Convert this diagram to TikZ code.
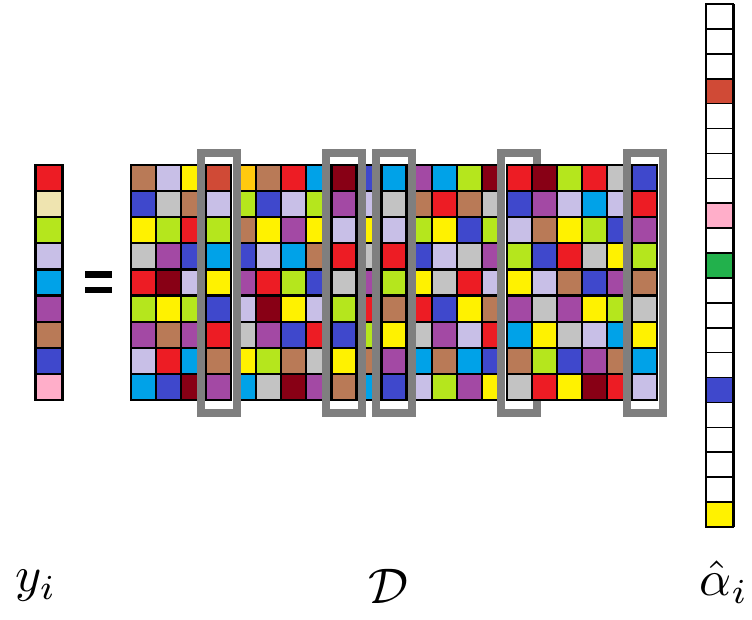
\documentclass[tikz,border=0pt]{standalone}
\usepackage{amsmath}
\definecolor{Br}{HTML}{B97A57}
\definecolor{Lv}{HTML}{C8BFE7}
\definecolor{Ye}{HTML}{FFF200}
\definecolor{Rd}{HTML}{ED1C24}
\definecolor{Bl}{HTML}{3F48CC}
\definecolor{Gy}{HTML}{C3C3C3}
\definecolor{Li}{HTML}{B5E61D}
\definecolor{Pu}{HTML}{A349A4}
\definecolor{Dr}{HTML}{880015}
\definecolor{Cy}{HTML}{00A2E8}
\definecolor{Am}{HTML}{FFC90E}
\definecolor{Cr}{HTML}{EFE4B0}
\definecolor{Pk}{HTML}{FFAEC9}
\definecolor{Gr}{HTML}{22B14C}
\definecolor{Ru}{HTML}{D04A36}
\definecolor{Wh}{HTML}{FFFFFF}
\definecolor{boxgray}{HTML}{7F7F7F}
\begin{document}
\begin{tikzpicture}[x=1pt,y=-1pt,
  cell/.style={draw=black,line width=2.2pt},
  acell/.style={draw=black,line width=1.6pt},
  hibox/.style={draw=boxgray,line width=8pt,fill=white},
  lab/.style={inner sep=0pt,scale=5}]
\useasboundingbox[fill=white] (0,0) rectangle (752,619);
\pgfmathsetmacro{\cw}{25.05}
\pgfmathsetmacro{\rh}{26.11}
% base matrix
\def\matcols{{Br,Bl,Ye,Gy,Rd,Li,Pu,Lv,Cy},
{Lv,Gy,Li,Pu,Dr,Ye,Br,Rd,Bl},
{Ye,Br,Rd,Bl,Lv,Li,Pu,Cy,Dr},
{Ru,Lv,Li,Cy,Ye,Bl,Rd,Br,Pu},
{Am,Li,Br,Bl,Pu,Lv,Gy,Ye,Cy},
{Br,Bl,Ye,Lv,Rd,Dr,Pu,Li,Gy},
{Rd,Lv,Pu,Cy,Li,Ye,Bl,Br,Dr},
{Cy,Li,Ye,Br,Bl,Lv,Rd,Gy,Pu},
{Dr,Pu,Lv,Rd,Gy,Li,Bl,Ye,Br},
{Bl,Lv,Ye,Gy,Pu,Rd,Li,Br,Cy},
{Cy,Gy,Lv,Rd,Li,Br,Ye,Pu,Bl},
{Pu,Br,Li,Bl,Ye,Rd,Gy,Cy,Lv},
{Cy,Rd,Ye,Lv,Gy,Bl,Pu,Br,Li},
{Li,Br,Bl,Gy,Rd,Ye,Lv,Cy,Pu},
{Dr,Gy,Li,Pu,Lv,Br,Rd,Bl,Ye},
{Rd,Bl,Lv,Li,Ye,Pu,Cy,Br,Gy},
{Dr,Pu,Br,Bl,Lv,Gy,Ye,Li,Rd},
{Li,Lv,Ye,Rd,Br,Pu,Gy,Bl,Ye},
{Rd,Cy,Li,Gy,Bl,Ye,Lv,Pu,Dr},
{Gy,Lv,Bl,Ye,Pu,Li,Cy,Br,Rd},
{Bl,Rd,Pu,Li,Br,Gy,Ye,Cy,Lv}}
\foreach \col [count=\i] in \matcols {
  \foreach \clr [count=\j] in \col {
    \pgfmathsetmacro{\xl}{131+\cw*(\i-1)}
    \pgfmathsetmacro{\yt}{165+\rh*(\j-1)}
    \filldraw[cell,fill=\clr] (\xl,\yt) rectangle ++(\cw,\rh);
  }
}
% highlighted columns
\foreach \i in {4,9,11,16,21} {
  \pgfmathsetmacro{\xl}{131+\cw*(\i-1)}
  \filldraw[hibox] (\xl-5.5,153) rectangle (\xl+\cw+5.5,413);
  \foreach \col [count=\k] in \matcols {
    \ifnum\k=\i
      \foreach \clr [count=\j] in \col {
        \pgfmathsetmacro{\yt}{165+\rh*(\j-1)}
        \filldraw[cell,fill=\clr] (\xl,\yt) rectangle ++(\cw,\rh);
      }
    \fi
  }
}
% column 17 lies over the right side of the fourth frame
\foreach \clr [count=\j] in {Dr,Pu,Br,Bl,Lv,Gy,Ye,Li,Rd} {
  \pgfmathsetmacro{\xl}{131+\cw*16}
  \pgfmathsetmacro{\yt}{165+\rh*(\j-1)}
  \filldraw[cell,fill=\clr] (\xl,\yt) rectangle ++(\cw,\rh);
}
% y vector
\foreach \clr [count=\j] in {Rd,Cr,Li,Lv,Cy,Pu,Br,Bl,Pk} {
  \pgfmathsetmacro{\yt}{165+\rh*(\j-1)}
  \filldraw[cell,fill=\clr] (35.5,\yt) rectangle ++(27,\rh);
}
% equals sign
\fill[black] (85,271) rectangle (112,278);
\fill[black] (85,287) rectangle (112,293);
% alpha vector
\foreach \clr [count=\j] in {Wh,Wh,Wh,Ru,Wh,Wh,Wh,Wh,Pk,Wh,Gr,Wh,Wh,Wh,Wh,Bl,Wh,Wh,Wh,Wh,Ye} {
  \pgfmathsetmacro{\yt}{4+24.9*(\j-1)}
  \filldraw[acell,fill=\clr] (706,\yt) rectangle ++(27,24.9);
}
\draw[black,line width=2.5pt] (733.5,4) -- (733.5,527);
% labels
\node[lab] (ylab) at (36,586) {$y_i$};
\node[lab] (dlab) at (388,586) {$\mathcal{D}$};
\node[lab] (alab) at (724,582) {$\hat{\alpha}_i$};
\end{tikzpicture}
\end{document}
